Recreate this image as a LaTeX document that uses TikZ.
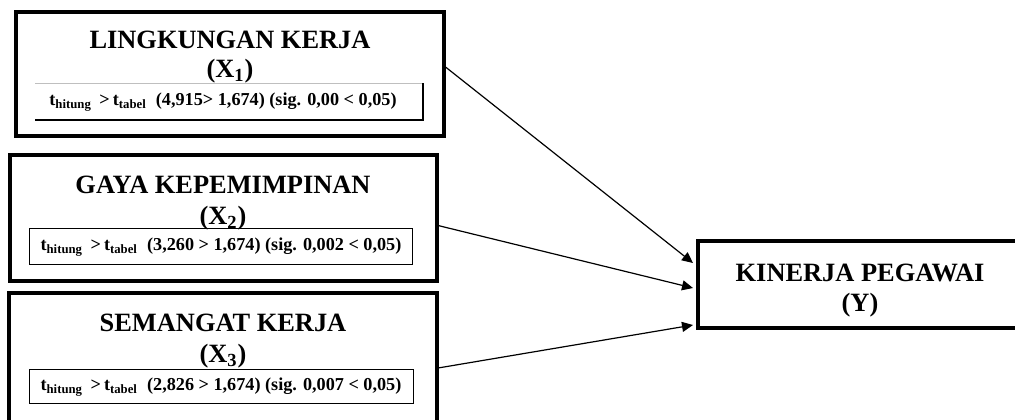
\documentclass[tikz,border=0pt]{standalone}
\usepackage{fontspec}
\setmainfont{Liberation Serif}
\usetikzlibrary{arrows.meta}

\begin{document}
\begin{tikzpicture}[x=0.5pt,y=-0.5pt,
    outerbox/.style={draw,line width=1.8pt},
    innerbox/.style={draw,line width=0.5pt},
    title/.style={font=\fontsize{13.2}{15}\selectfont\bfseries,align=center,inner sep=0pt},
    uji/.style={font=\fontsize{9.1}{10}\selectfont\bfseries,inner sep=0pt},
    panah/.style={-{Triangle[length=5.5pt,width=5pt]},line width=0.6pt}]
    \useasboundingbox (0,0) rectangle (1015,419);
    \clip (0,0) rectangle (1015,419);
    % variabel bebas
    \draw[outerbox] (16,12) rectangle (444,136);
    \node[title] (x1) at (230,40) {LINGKUNGAN KERJA};
    \node[title] (x1s) at (230,71) {(X\textsubscript{1})};
    \node[uji] (u1) at (223,102) {t\textsubscript{hitung} \,>\,t\textsubscript{tabel}\ \ (4,915> 1,674) (sig. 0,00 < 0,05)};
    \draw[line width=0.5pt,black!25] (35,83) -- (423,83);
    \draw[line width=0.6pt] (423,83) -- (423,120) -- (35,120);
    \draw[outerbox] (10,155) rectangle (437,281);
    \node[title] (x2) at (223,185) {GAYA KEPEMIMPINAN};
    \node[title] (x2s) at (223,218) {(X\textsubscript{2})};
    \draw[innerbox] (29,228) rectangle (412,264);
    \node[uji] (u2) at (221,247) {t\textsubscript{hitung} \,>\,t\textsubscript{tabel}\ \ (3,260 > 1,674) (sig. 0,002 < 0,05)};
    \draw[outerbox] (9,293) rectangle (437,440);
    \node[title] (x3) at (223,323) {SEMANGAT KERJA};
    \node[title] (x3s) at (223,356) {(X\textsubscript{3})};
    \draw[innerbox] (29,369) rectangle (413,403);
    \node[uji] (u3) at (221,387) {t\textsubscript{hitung} \,>\,t\textsubscript{tabel}\ \ (2,826 > 1,674) (sig. 0,007 < 0,05)};
    % variabel terikat
    \draw[outerbox] (698,241) rectangle (1030,328);
    \node[title] (y) at (860,273) {KINERJA PEGAWAI};
    \node[title] (ys) at (860,305) {(Y)};
    % titik panah
    \coordinate (s1) at (443,65);
    \coordinate (s2) at (436,225);
    \coordinate (s3) at (438,368);
    \coordinate (e1) at (693,263);
    \coordinate (e2) at (693,288);
    \coordinate (e3) at (693,325);
    \draw[panah] (s1) -- (e1);
    \draw[panah] (s2) -- (e2);
    \draw[panah] (s3) -- (e3);
\end{tikzpicture}
\end{document}
